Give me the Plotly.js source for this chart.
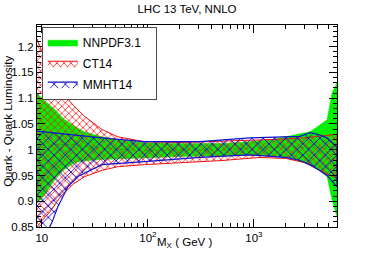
<!DOCTYPE html>
<html>
<head>
<meta charset="utf-8">
<script src="https://cdn.plot.ly/plotly-3.0.1.min.js"></script>
<style>html,body{margin:0;padding:0;background:#fff;}#chart{width:374px;height:253px;}</style>
</head>
<body>
<div id="chart"></div>
<script>
// NNPDF3.1 band
var nnpdfMass = [9, 10, 13.3, 16, 20.5, 25, 37, 50, 93, 200, 500, 917, 1500, 2200, 3000, 3375, 4000, 4890, 5445, 6070];
var nnpdfUp   = [1.11, 1.10, 1.078, 1.06, 1.045, 1.035, 1.025, 1.02, 1.0135, 1.012, 1.012, 1.0155, 1.02, 1.027, 1.033, 1.035, 1.045, 1.058, 1.11, 1.13];
var nnpdfLow  = [0.897, 0.905, 0.942, 0.96, 0.975, 0.978, 0.981, 0.982, 0.984, 0.987, 0.988, 0.99, 0.988, 0.984, 0.975, 0.971, 0.962, 0.948, 0.903, 0.87];
// CT14 band
var ctMass = [9, 10, 12, 15, 20, 25.5, 37, 52, 93, 200, 500, 1140, 2000, 3000, 4000, 5000, 6070];
var ctUp   = [1.215, 1.19, 1.15, 1.115, 1.085, 1.064, 1.039, 1.025, 1.0155, 1.014, 1.016, 1.019, 1.021, 1.023, 1.026, 1.028, 1.03];
var ctLow  = [0.85, 0.862, 0.88, 0.909, 0.934, 0.948, 0.96, 0.967, 0.971, 0.975, 0.979, 0.985, 0.983, 0.975, 0.962, 0.952, 0.945];
// MMHT14 band
var mmhtMass = [9, 10, 12.4, 14.2, 17.6, 21.9, 36.8, 93, 309, 917, 2000, 2720, 3375, 4000, 4890, 6070];
var mmhtUp   = [1.036, 1.035, 1.032, 1.031, 1.029, 1.027, 1.023, 1.0155, 1.0155, 1.023, 1.025, 1.026, 1.033, 1.03, 1.023, 1.005];
var mmhtLow  = [0.80, 0.82, 0.858, 0.89, 0.928, 0.948, 0.971, 0.977, 0.985, 0.99, 0.985, 0.979, 0.971, 0.962, 0.95, 0.928];

var seriesNames = ['NNPDF3.1\u00a0\u00a0\u00a0', 'CT14', 'MMHT14'];
var xTickVals = [10, 100, 1000];
var xTickText = ['10', '10<sup>2</sup>', '10<sup>3</sup>'];
var xMinorVals = [20,30,40,50,60,70,80,90,200,300,400,500,600,700,800,900,2000,3000,4000,5000,6000];

function band(m, up, low) {
  return {
    x: m.concat(m.slice().reverse()),
    y: up.concat(low.slice().reverse())
  };
}
var g = band(nnpdfMass, nnpdfUp, nnpdfLow);
var c = band(ctMass, ctUp, ctLow);
var b = band(mmhtMass, mmhtUp, mmhtLow);

var traces = [
  {x: g.x, y: g.y, type: 'scatter', mode: 'lines', fill: 'toself', name: seriesNames[0],
   legendgroup: 'a', fillcolor: '#00ee00', line: {color: '#00ee00', width: 0.5}},
  {x: nnpdfMass, y: nnpdfMass.map(function(_, i){return (nnpdfUp[i] + nnpdfLow[i]) / 2;}),
   type: 'scatter', mode: 'lines', showlegend: false, hoverinfo: 'skip', legendgroup: 'a',
   line: {color: '#009900', width: 0.8, dash: 'dot'}},
  {x: c.x, y: c.y, type: 'scatter', mode: 'lines', fill: 'toself', name: seriesNames[1],
   legendgroup: 'b', fillcolor: 'rgba(0,0,0,0)',
   fillpattern: {shape: 'x', fgcolor: '#ff1a1a', bgcolor: 'rgba(0,0,0,0)', size: 5, solidity: 0.28},
   line: {color: '#ee1111', width: 1}},
  {x: b.x, y: b.y, type: 'scatter', mode: 'lines', fill: 'toself', name: seriesNames[2],
   legendgroup: 'c', fillcolor: 'rgba(0,0,0,0)',
   fillpattern: {shape: 'x', fgcolor: '#1515d0', bgcolor: 'rgba(0,0,0,0)', size: 8, solidity: 0.22},
   line: {color: '#1111cc', width: 1.2}}
];

var axisCommon = {
  showline: true, linecolor: '#000', linewidth: 1, mirror: 'allticks',
  ticks: 'inside', tickcolor: '#000', showgrid: false, zeroline: false,
  tickfont: {family: 'Liberation Sans, Arial, sans-serif', size: 11.5, color: '#000'}
};

var layout = {
  width: 374, height: 253,
  margin: {l: 37, r: 37, t: 25, b: 26},
  paper_bgcolor: '#fff', plot_bgcolor: '#fff',
  font: {family: 'Liberation Sans, Arial, sans-serif', color: '#000'},
  title: {text: 'LHC 13 TeV, NNLO', x: 0.5, xanchor: 'center', y: 0.965, yanchor: 'middle',
          font: {size: 11.5, color: '#000'}},
  showlegend: true,
  legend: {x: 0.017, y: 0.99, xanchor: 'left', yanchor: 'top', bgcolor: '#fff',
           bordercolor: '#000', borderwidth: 0.7, traceorder: 'grouped',
           font: {size: 12, color: '#000'}, itemwidth: 30, tracegroupgap: 2},
  xaxis: Object.assign({}, axisCommon, {
    type: 'log', range: [Math.log10(9), Math.log10(6070)],
    tickmode: 'array', tickvals: xTickVals, ticktext: xTickText, ticklen: 8,
    minor: {tickmode: 'array', tickvals: xMinorVals, ticks: 'inside', ticklen: 4, tickcolor: '#000', showgrid: false}
  }),
  yaxis: Object.assign({}, axisCommon, {
    range: [0.85, 1.242], dtick: 0.05, tick0: 0.85, ticklen: 8,
    minor: {dtick: 0.01, ticks: 'inside', ticklen: 4, tickcolor: '#000', showgrid: false}
  }),
  annotations: [
    {text: 'M<sub>X</sub> ( GeV )', xref: 'paper', yref: 'paper', x: 0.493, y: -0.079,
     xanchor: 'center', yanchor: 'middle', showarrow: false, font: {size: 11.5, color: '#000'}},
    {text: 'Quark - Quark Luminosity', xref: 'paper', yref: 'paper', x: -0.097, y: 0.525,
     xanchor: 'center', yanchor: 'middle', textangle: -90, showarrow: false, font: {size: 11.5, color: '#000'}}
  ]
};

Plotly.newPlot('chart', traces, layout, {displayModeBar: false, staticPlot: true});
</script>
</body>
</html>
